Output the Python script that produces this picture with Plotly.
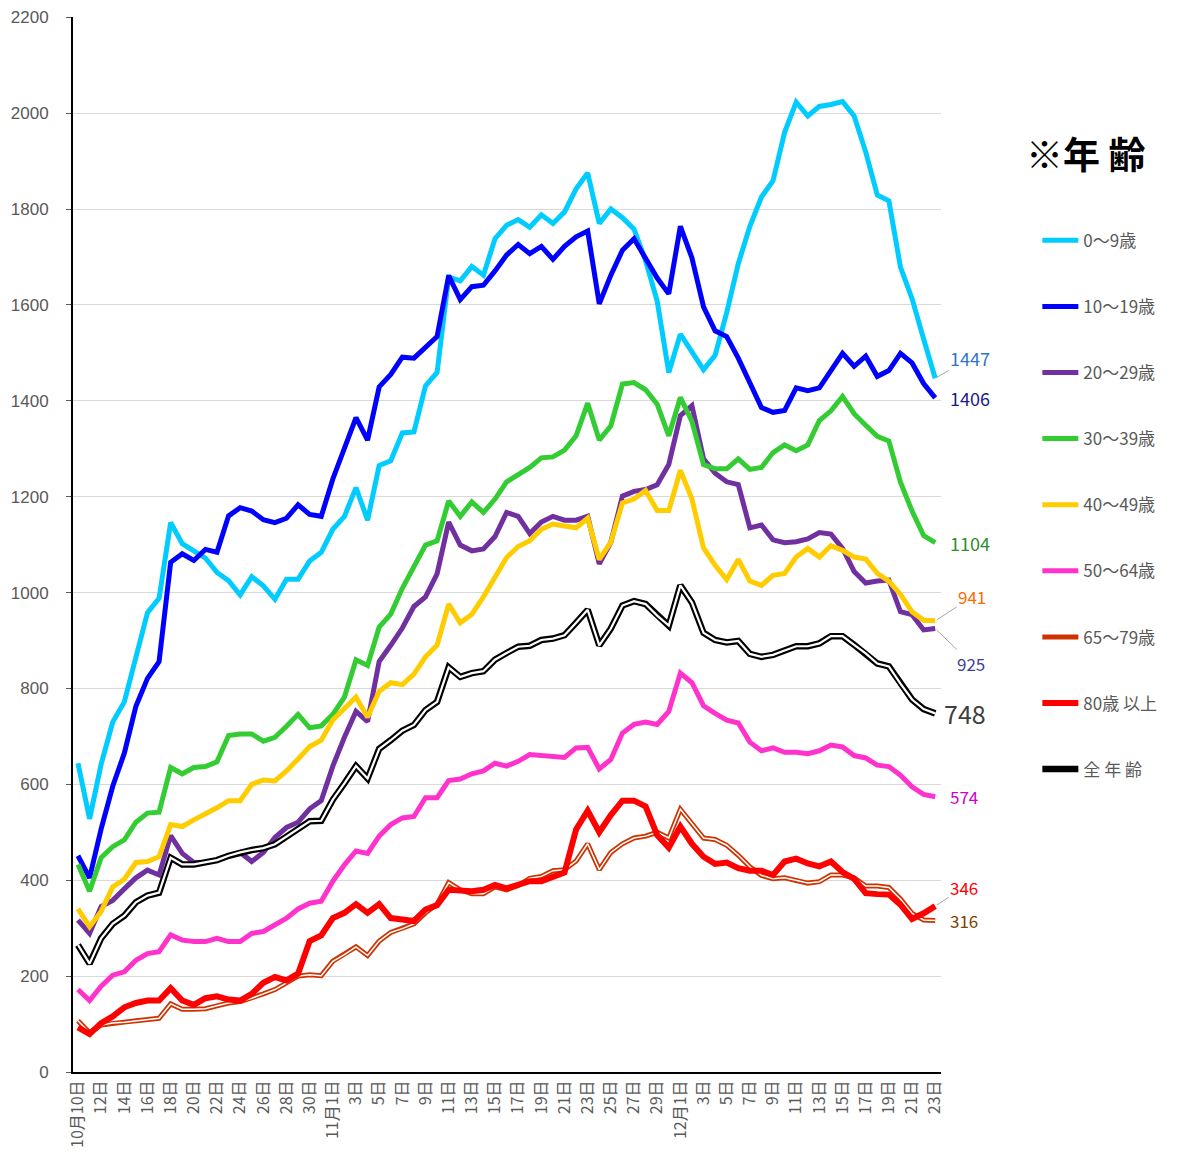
import plotly.graph_objects as go

# ---- categories (dates) ----
dates = ([f"10月{d}日" for d in range(10, 32)] +
         [f"11月{d}日" for d in range(1, 31)] +
         [f"12月{d}日" for d in range(1, 24)])

tick_text = ["10月10日", "12日", "14日", "16日", "18日", "20日", "22日", "24日", "26日", "28日", "30日",
             "11月1日", "3日", "5日", "7日", "9日", "11日", "13日", "15日", "17日", "19日", "21日", "23日",
             "25日", "27日", "29日",
             "12月1日", "3日", "5日", "7日", "9日", "11日", "13日", "15日", "17日", "19日", "21日", "23日"]

y_ticks = [0, 200, 400, 600, 800, 1000, 1200, 1400, 1600, 1800, 2000, 2200]

# ---- series values ----
age_0_9 = [644, 528, 642, 730, 772, 870, 958, 988, 1146, 1102, 1087, 1072, 1042, 1025, 995, 1033, 1014, 986, 1028, 1028, 1066,
           1084, 1132, 1159, 1219, 1151, 1265, 1275, 1333, 1335, 1431, 1459, 1658, 1650, 1680, 1662, 1738, 1766, 1778, 1762, 1788, 1770,
           1794, 1842, 1875, 1770, 1800, 1782, 1758, 1692, 1608, 1459, 1539, 1503, 1465, 1495, 1584, 1686, 1764, 1825,
           1859, 1960, 2023, 1994, 2014, 2018, 2024, 1994, 1919, 1829, 1817, 1679, 1613, 1529, 1447]
age_10_19 = [451, 405, 507, 596, 665, 763, 821, 856, 1063, 1081, 1067, 1090, 1084, 1160, 1177, 1170, 1152, 1146, 1155, 1183, 1163,
             1159, 1237, 1303, 1365, 1318, 1429, 1455, 1491, 1489, 1512, 1534, 1661, 1611, 1638, 1641, 1671, 1704, 1726, 1707, 1722, 1695,
             1722, 1742, 1754, 1602, 1662, 1714, 1738, 1698, 1656, 1623, 1764, 1698, 1596, 1546, 1534, 1489, 1435, 1386,
             1376, 1380, 1427, 1421, 1427, 1463, 1499, 1472, 1493, 1451, 1463, 1499, 1479, 1436, 1406]
age_20_29 = [317, 289, 345, 358, 382, 405, 421, 411, 493, 456, 437, 437, 442, 451, 458, 439, 458, 489, 510, 521, 549,
             566, 638, 698, 752, 731, 856, 890, 926, 971, 991, 1039, 1147, 1099, 1087, 1091, 1117, 1167, 1159, 1123, 1147, 1159,
             1151, 1151, 1159, 1060, 1105, 1201, 1211, 1215, 1225, 1267, 1369, 1390, 1279, 1249, 1231, 1225, 1135, 1141,
             1110, 1104, 1106, 1112, 1125, 1122, 1092, 1044, 1020, 1024, 1026, 960, 954, 922, 925]
age_30_39 = [433, 377, 447, 470, 484, 521, 540, 542, 635, 622, 635, 637, 647, 702, 705, 705, 690, 698, 721, 746, 718,
             722, 746, 782, 860, 848, 928, 955, 1009, 1055, 1099, 1108, 1191, 1159, 1189, 1167, 1195, 1231, 1247, 1261, 1281, 1283,
             1297, 1327, 1395, 1318, 1348, 1435, 1438, 1423, 1393, 1327, 1407, 1357, 1267, 1258, 1258, 1279, 1257, 1261,
             1292, 1308, 1296, 1308, 1359, 1379, 1409, 1373, 1349, 1326, 1316, 1230, 1170, 1119, 1104]
age_40_49 = [340, 303, 335, 386, 402, 437, 439, 449, 516, 512, 526, 538, 551, 566, 566, 600, 609, 607, 628, 653, 679,
             692, 734, 758, 782, 740, 794, 812, 808, 830, 866, 890, 976, 937, 955, 991, 1033, 1073, 1096, 1108, 1132, 1143,
             1139, 1135, 1155, 1069, 1105, 1187, 1195, 1213, 1171, 1171, 1255, 1195, 1093, 1057, 1027, 1069, 1024, 1015,
             1036, 1040, 1074, 1092, 1074, 1098, 1088, 1074, 1070, 1040, 1024, 996, 960, 942, 941]
age_50_64 = [172, 149, 179, 202, 209, 233, 247, 251, 286, 275, 272, 272, 279, 272, 272, 289, 293, 307, 321, 340, 352,
             356, 398, 432, 461, 456, 492, 516, 530, 533, 572, 572, 608, 611, 622, 628, 644, 638, 648, 662, 660, 659,
             656, 676, 677, 632, 652, 707, 725, 730, 725, 752, 832, 812, 764, 748, 734, 728, 688, 670,
             676, 667, 667, 664, 670, 682, 678, 660, 655, 640, 637, 619, 595, 579, 574]
age_65_79 = [107, 82, 98, 102, 104, 107, 110, 112, 142, 131, 131, 132, 138, 144, 147, 154, 163, 172, 186, 200, 203,
             201, 231, 245, 261, 243, 273, 291, 299, 309, 332, 350, 395, 380, 372, 372, 386, 380, 389, 404, 408, 420,
             422, 440, 476, 422, 458, 476, 488, 492, 500, 488, 548, 518, 488, 485, 473, 452, 428, 410,
             403, 405, 400, 394, 397, 411, 411, 405, 388, 388, 385, 361, 331, 317, 316]
age_80_plus = [93, 79, 102, 116, 135, 144, 149, 149, 175, 149, 140, 154, 158, 151, 149, 163, 186, 198, 191, 205, 273,
               285, 321, 332, 350, 332, 350, 321, 318, 315, 339, 348, 380, 377, 377, 380, 390, 383, 392, 398, 398, 407,
               416, 506, 545, 500, 536, 566, 566, 554, 494, 468, 512, 476, 449, 434, 437, 425, 420, 420,
               411, 439, 445, 435, 429, 439, 417, 403, 373, 371, 370, 349, 319, 331, 346]
all_ages = [265, 226, 279, 309, 326, 354, 368, 374, 447, 433, 433, 437, 442, 451, 458, 463, 467, 475, 491, 507, 523,
            524, 568, 602, 638, 612, 674, 692, 712, 724, 755, 772, 844, 824, 832, 836, 860, 874, 887, 889, 901, 904,
            911, 937, 964, 890, 925, 973, 982, 976, 952, 931, 1015, 979, 916, 901, 896, 899, 872, 866,
            870, 879, 888, 888, 894, 909, 909, 891, 873, 852, 846, 810, 777, 757, 748]

series_names = ["0～9歳", "10～19歳", "20～29歳", "30～39歳", "40～49歳", "50～64歳", "65～79歳", "80歳 以上", "全 年 齢"]
series_values = [age_0_9, age_10_19, age_20_29, age_30_39, age_40_49, age_50_64, age_65_79, age_80_plus, all_ages]
series_colors = ["#00CCFF", "#0000FF", "#7030A0", "#33CC33", "#FFCC00", "#FF33CC", "#CC3300", "#FF0000", "#000000"]
series_widths = [5, 5, 5, 5, 5, 5, 5, 6, 6.5]
inner_widths = [0, 0, 0, 0, 0, 0, 1.5, 0, 2.2]   # white centre stripe for double lines

# end-of-line value labels: text, colour, font size, x offset, y offset, leader line
end_labels = ["1447", "1406", "925", "1104", "941", "574", "316", "346", "748"]
end_series = [age_0_9, age_10_19, age_20_29, age_30_39, age_40_49, age_50_64, age_65_79, age_80_plus, all_ages]
end_colors = ["#2F75C8", "#1A1A8C", "#3F3F9F", "#2E8B2E", "#FF6A00", "#CC00CC", "#7F4000", "#FF0000", "#404040"]
end_sizes = [18, 18, 17, 18, 17, 17, 17, 17, 25]
end_dx = [35, 35, 36, 35, 37, 29, 29, 29, 30]
end_dy = [-20, 0, 35, 0, -24, 0, 0, -19, 0]
end_leader = [True, False, True, False, True, False, False, True, False]

JP = "Noto Sans CJK JP, Liberation Sans, sans-serif"

fig = go.Figure()
for k, (name, vals, col, w, iw) in enumerate(zip(series_names, series_values, series_colors,
                                                 series_widths, inner_widths)):
    fig.add_trace(go.Scatter(x=dates, y=vals, mode="lines", name=name,
                             line=dict(color=col, width=w), legendgroup=f"g{k}"))
    if iw > 0:
        fig.add_trace(go.Scatter(x=dates, y=vals, mode="lines", name=name, showlegend=False,
                                 line=dict(color="white", width=iw), legendgroup=f"g{k}",
                                 hoverinfo="skip"))

last = dates[-1]
for text, vals, col, size, dx, dy, leader in zip(end_labels, end_series, end_colors, end_sizes,
                                                   end_dx, end_dy, end_leader):
    if leader:
        fig.add_annotation(x=last, y=vals[-1], xref="x", yref="y", text=text,
                           showarrow=True, ax=dx, ay=dy, arrowhead=0, arrowwidth=1,
                           arrowcolor="#A6A6A6", standoff=2,
                           font=dict(family=JP, size=size, color=col))
    else:
        fig.add_annotation(x=last, y=vals[-1], xref="x", yref="y", text=text,
                           showarrow=False, xanchor="center", xshift=dx,
                           font=dict(family=JP, size=size, color=col))

# legend heading
fig.add_annotation(xref="paper", yref="paper", x=1.096, y=0.871, xanchor="left", yanchor="middle",
                   text="<b>※年 齢</b>", showarrow=False,
                   font=dict(family=JP, size=37, color="#000000"))

fig.update_layout(
    width=1171, height=1145,
    paper_bgcolor="white", plot_bgcolor="white",
    margin=dict(l=65, r=238, t=9, b=81, autoexpand=False),
    showlegend=True,
    legend=dict(x=1.111, y=0.805, xanchor="left", yanchor="top",
                font=dict(family=JP, size=17, color="#595959"),
                traceorder="grouped", tracegroupgap=41, itemwidth=36,
                bgcolor="rgba(0,0,0,0)"),
    xaxis=dict(type="category", range=[-0.43, 74.5], tickmode="array",
               tickvals=dates[::2], ticktext=tick_text, tickangle=-90,
               tickfont=dict(family=JP, size=16, color="#595959"),
               showgrid=False, showline=True, linecolor="#000000", linewidth=2,
               ticks="", zeroline=False, automargin=False),
    yaxis=dict(range=[0, 2200.5], tickmode="array", tickvals=y_ticks,
               ticktext=[str(v) for v in y_ticks], ticklabeloverflow="allow",
               tickfont=dict(family="Liberation Sans, Arial, sans-serif", size=17, color="#595959"),
               showgrid=True, gridcolor="#D9D9D9", gridwidth=1,
               showline=True, linecolor="#000000", linewidth=2,
               ticks="outside", ticklen=5, tickcolor="#595959", zeroline=False,
               automargin=False, ticklabelstandoff=14),
)

fig.write_html("out.html")
